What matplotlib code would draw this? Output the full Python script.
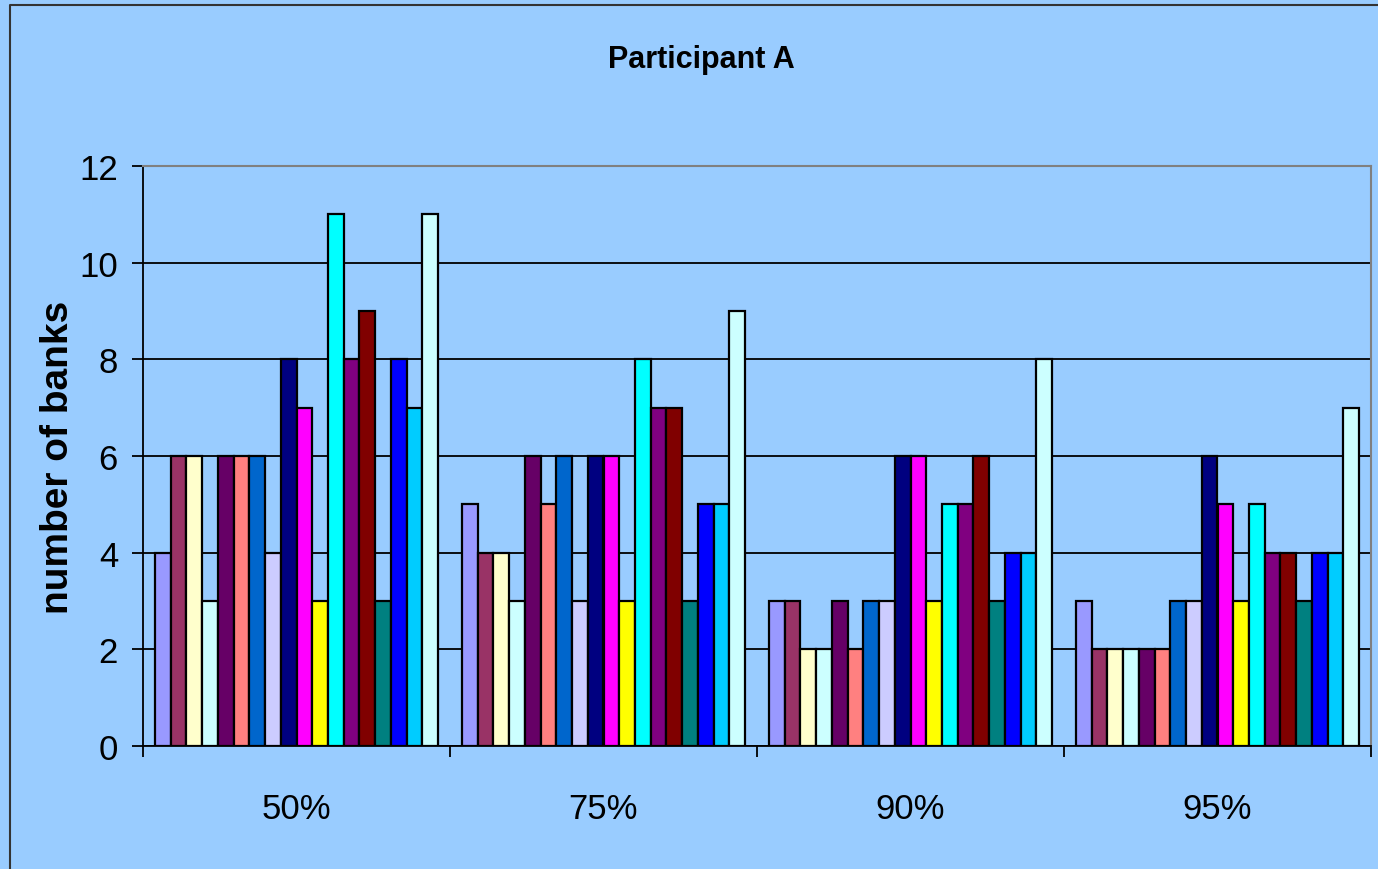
import numpy as np
import matplotlib
matplotlib.use("Agg")
import matplotlib.pyplot as plt
from matplotlib import font_manager
from matplotlib.lines import Line2D

categories = ["50%", "75%", "90%", "95%"]

# number of banks per series (18 series) for each threshold
banks_50 = [4, 6, 6, 3, 6, 6, 6, 4, 8, 7, 3, 11, 8, 9, 3, 8, 7, 11]
banks_75 = [5, 4, 4, 3, 6, 5, 6, 3, 6, 6, 3, 8, 7, 7, 3, 5, 5, 9]
banks_90 = [3, 3, 2, 2, 3, 2, 3, 3, 6, 6, 3, 5, 5, 6, 3, 4, 4, 8]
banks_95 = [3, 2, 2, 2, 2, 2, 3, 3, 6, 5, 3, 5, 4, 4, 3, 4, 4, 7]

series_colors = ["#9999FF", "#993366", "#FFFFCC", "#CCFFFF", "#660066", "#FF8080",
                 "#0066CC", "#CCCCFF", "#000080", "#FF00FF", "#FFFF00", "#00FFFF",
                 "#800080", "#800000", "#008080", "#0000FF", "#00CCFF", "#CCFFFF"]

BG = "#99CCFF"


def pick_family(names):
    for name in names:
        try:
            font_manager.findfont(font_manager.FontProperties(family=name),
                                  fallback_to_default=False)
            return name
        except Exception:
            continue
    return "DejaVu Sans"


narrow = pick_family(["Liberation Sans Narrow", "Liberation Sans", "Arial"])
regular = pick_family(["Liberation Sans", "Arial"])

W, H = 1378, 870
fig = plt.figure(figsize=(W / 100, H / 100), dpi=100, facecolor=BG)

# plot area in pixel terms
left, right, top, bottom = 143, 1371, 167, 747
ax = fig.add_axes([left / W, 1 - bottom / H, (right - left) / W, (bottom - top) / H])
ax.set_facecolor(BG)

data = np.array([banks_50, banks_75, banks_90, banks_95])
n_series = data.shape[1]
width = 1 / (n_series + 1.5)
x = np.arange(len(categories))

for i in range(n_series):
    offs = (i - (n_series - 1) / 2) * width
    ax.bar(x + offs, data[:, i], width=width, color=series_colors[i],
           edgecolor="black", linewidth=1.6, zorder=3)

ax.set_xlim(-0.5, len(categories) - 0.5)
ax.set_ylim(0, 12)
ax.set_yticks(np.arange(0, 13, 2))
ax.yaxis.grid(True, color="black", linewidth=1.3, zorder=0)
ax.set_axisbelow(True)

ax.set_xticks(x)
ax.set_xticklabels(categories, fontfamily=narrow, fontsize=25)
ax.set_xticks(np.arange(-0.5, len(categories)), minor=True)
ax.tick_params(axis="x", which="major", length=0, pad=33)
ax.tick_params(axis="x", which="minor", length=8, width=1.3, color="black")
ax.tick_params(axis="y", length=8, width=1.3, pad=10, labelsize=25)
for lbl in ax.get_yticklabels():
    lbl.set_fontfamily(narrow)

for side in ["top", "right"]:
    ax.spines[side].set_color("#808080")
    ax.spines[side].set_linewidth(1.5)
for side in ["left", "bottom"]:
    ax.spines[side].set_color("black")
    ax.spines[side].set_linewidth(1.3)

ax.set_ylabel("number of banks", fontfamily=regular, fontweight="bold",
              fontsize=28, labelpad=2)

fig.text(701 / W, 1 - 68 / H, "Participant A", ha="center", va="baseline",
         fontfamily=narrow, fontweight="bold", fontsize=22)

# outer chart border (left and top edges)
fig.add_artist(Line2D([10 / W, 10 / W, 1.0], [0.0, 1 - 6 / H, 1 - 6 / H],
                      transform=fig.transFigure, color="#333333", linewidth=1.5))

fig.savefig("out.png", dpi=100, facecolor=BG)
